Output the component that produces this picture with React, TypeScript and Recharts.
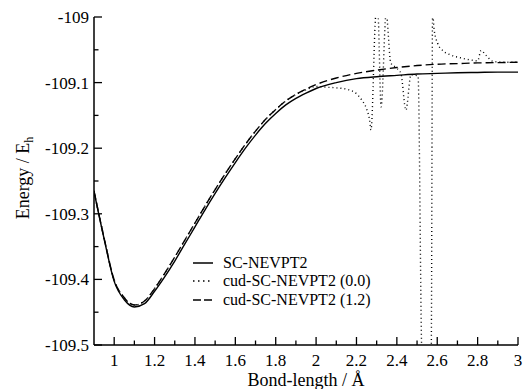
import React from 'react';
import { LineChart, Line, XAxis, YAxis, Legend, Label } from 'recharts';

// bond length (Å) / energy (Eh)
const rSc = [0.9, 0.95, 1.0, 1.05, 1.1, 1.15, 1.2, 1.25, 1.3, 1.35, 1.4, 1.45, 1.5, 1.55, 1.6, 1.65, 1.7, 1.75, 1.8, 1.85, 1.9, 1.95, 2.0, 2.1, 2.2, 2.3, 2.4, 2.5, 2.6, 2.7, 2.8, 2.9, 3.0];
const eSc = [-109.266, -109.338, -109.403, -109.431, -109.442, -109.437, -109.418, -109.396, -109.372, -109.346, -109.32, -109.294, -109.269, -109.245, -109.222, -109.2, -109.18, -109.162, -109.147, -109.134, -109.124, -109.116, -109.109, -109.1, -109.094, -109.091, -109.089, -109.087, -109.086, -109.085, -109.0845, -109.084, -109.084];

const rCud12 = [0.9, 0.95, 1.0, 1.05, 1.1, 1.15, 1.2, 1.25, 1.3, 1.35, 1.4, 1.45, 1.5, 1.55, 1.6, 1.65, 1.7, 1.75, 1.8, 1.85, 1.9, 1.95, 2.0, 2.1, 2.2, 2.3, 2.4, 2.5, 2.6, 2.7, 2.8, 2.9, 3.0];
const eCud12 = [-109.265, -109.337, -109.401, -109.428, -109.439, -109.433, -109.414, -109.391, -109.366, -109.34, -109.314, -109.288, -109.263, -109.239, -109.216, -109.194, -109.174, -109.156, -109.141, -109.128, -109.118, -109.11, -109.103, -109.093, -109.086, -109.081, -109.077, -109.074, -109.072, -109.071, -109.07, -109.0695, -109.069];

const rCud00 = [0.9, 0.95, 1.0, 1.05, 1.1, 1.15, 1.2, 1.25, 1.3, 1.35, 1.4, 1.45, 1.5, 1.55, 1.6, 1.65, 1.7, 1.75, 1.8, 1.85, 1.9, 1.95, 2.0, 2.05, 2.1, 2.15, 2.2, 2.225, 2.25, 2.265, 2.272, 2.297, 2.306, 2.322, 2.347, 2.37, 2.4, 2.42, 2.445, 2.47, 2.505, 2.525, 2.57, 2.577, 2.585, 2.602, 2.627, 2.668, 2.726, 2.775, 2.8, 2.817, 2.84, 2.88, 2.95, 3.0];
const eCud00 = [-109.265, -109.337, -109.401, -109.428, -109.439, -109.433, -109.414, -109.391, -109.366, -109.34, -109.314, -109.288, -109.263, -109.239, -109.216, -109.194, -109.174, -109.156, -109.141, -109.128, -109.118, -109.111, -109.106, -109.107, -109.108, -109.11, -109.117, -109.126, -109.14, -109.157, -109.172, -108.995, -108.995, -109.137, -108.995, -109.07, -109.078, -109.086, -109.142, -109.088, -109.09, -109.52, -109.52, -108.995, -109.02, -109.04, -109.051, -109.058, -109.063, -109.066, -109.067, -109.051, -109.058, -109.068, -109.069, -109.069];

const xTicks = [1, 1.1, 1.2, 1.3, 1.4, 1.5, 1.6, 1.7, 1.8, 1.9, 2, 2.1, 2.2, 2.3, 2.4, 2.5, 2.6, 2.7, 2.8, 2.9, 3];
const xLabels = [1, 1.2, 1.4, 1.6, 1.8, 2, 2.2, 2.4, 2.6, 2.8, 3];
const yTicks = [-109.5, -109.45, -109.4, -109.35, -109.3, -109.25, -109.2, -109.15, -109.1, -109.05, -109];
const yLabels = [-109.5, -109.4, -109.3, -109.2, -109.1, -109];

const zip = (r: number[], e: number[]) => r.map((x, i) => ({ r: x, e: e[i] }));

const series = [
  { key: 'sc', name: 'SC-NEVPT2', data: zip(rSc, eSc), dash: undefined, legendDash: undefined },
  { key: 'c00', name: 'cud-SC-NEVPT2 (0.0)', data: zip(rCud00, eCud00), dash: '1 3', legendDash: '1.5 3.5' },
  { key: 'c12', name: 'cud-SC-NEVPT2 (1.2)', data: zip(rCud12, eCud12), dash: '8 4', legendDash: '8 3' },
];

const FONT = '"Liberation Serif"';
const isIn = (list: number[], v: number) => list.some((m) => Math.abs(m - v) < 1e-6);

const BottomTick = (props: any) => {
  const { x, y, payload } = props;
  const major = isIn(xLabels, payload.value);
  return (
    <g>
      <line x1={x} x2={x} y1={y} y2={y - (major ? 8 : 4.5)} stroke="#000" strokeWidth={1.3} />
      {major && (
        <text x={x} y={y + 21} textAnchor="middle" fontSize={17} fontFamily={FONT} fill="#000">
          {String(payload.value)}
        </text>
      )}
    </g>
  );
};

const TopTick = (props: any) => {
  const { x, y, payload } = props;
  const major = isIn(xLabels, payload.value);
  return <line x1={x} x2={x} y1={y} y2={y + (major ? 8 : 5)} stroke="#000" strokeWidth={1.3} />;
};

const LeftTick = (props: any) => {
  const { x, y, payload } = props;
  const major = isIn(yLabels, payload.value);
  return (
    <g>
      <line x1={x} x2={x + (major ? 8 : 4.5)} y1={y} y2={y} stroke="#000" strokeWidth={1.3} />
      {major && (
        <text x={x - 5} y={y + 6} textAnchor="end" fontSize={17} fontFamily={FONT} fill="#000">
          {String(payload.value)}
        </text>
      )}
    </g>
  );
};

const RightTick = (props: any) => {
  const { x, y } = props;
  return <line x1={x} x2={x - 9} y1={y} y2={y} stroke="#000" strokeWidth={1.3} />;
};

const renderLegend = () => (
  <div style={{ fontFamily: FONT, fontSize: 16, color: '#000' }}>
    {series.map((s) => (
      <div key={s.key} style={{ height: 18.3, display: 'flex', alignItems: 'center', whiteSpace: 'nowrap' }}>
        <svg width={20} height={6} style={{ marginRight: 10 }}>
          <line x1={0} x2={20} y1={3} y2={3} stroke="#000" strokeWidth={1.5} strokeDasharray={s.legendDash} />
        </svg>
        <span>{s.name}</span>
      </div>
    ))}
  </div>
);

const YTitle = () => (
  <text x={29} y={178} transform="rotate(-90, 29, 178)" textAnchor="middle" fontSize={18} fontFamily={FONT} fill="#000">
    Energy / E<tspan dy={4} fontSize={12}>h</tspan>
  </text>
);

const XTitle = () => (
  <text x={306} y={386} textAnchor="middle" fontSize={18} fontFamily={FONT} fill="#000">
    Bond-length / Å
  </text>
);

export default function App() {
  return (
    <div style={{ position: 'absolute', left: 0, top: 0, background: '#fff' }}>
      <LineChart width={523} height={389} margin={{ top: 17, right: 5, bottom: 0, left: 0 }}>
        <XAxis
          xAxisId="b" dataKey="r" type="number" domain={[0.9, 3]} allowDataOverflow
          ticks={xTicks} interval={0} height={44} tickSize={0} tickMargin={0}
          tickLine={false} axisLine={{ stroke: '#000', strokeWidth: 1.5 }} tick={<BottomTick />}
        >
          <Label content={<XTitle />} />
        </XAxis>
        <XAxis
          xAxisId="t" orientation="top" dataKey="r" type="number" domain={[0.9, 3]} allowDataOverflow
          ticks={xTicks} interval={0} height={0} tickSize={0} tickMargin={0}
          tickLine={false} axisLine={{ stroke: '#000', strokeWidth: 1.5 }} tick={<TopTick />}
        />
        <YAxis
          yAxisId="l" type="number" domain={[-109.5, -109]} allowDataOverflow
          ticks={yTicks} interval={0} width={94} tickSize={0} tickMargin={0}
          tickLine={false} axisLine={{ stroke: '#000', strokeWidth: 1.5 }} tick={<LeftTick />}
        >
          <Label content={<YTitle />} />
        </YAxis>
        <YAxis
          yAxisId="r" orientation="right" type="number" domain={[-109.5, -109]} allowDataOverflow
          ticks={yTicks} interval={0} width={0} tickSize={0} tickMargin={0}
          tickLine={false} axisLine={{ stroke: '#000', strokeWidth: 1.5 }} tick={<RightTick />}
        />
        <Legend
          layout="vertical" align="center" verticalAlign="middle" content={renderLegend}
          wrapperStyle={{ left: 193, top: 254 }}
        />
        {series.map((s) => (
          <Line
            key={s.key} xAxisId="b" yAxisId="l" data={s.data} dataKey="e" name={s.name}
            type="monotone" stroke="#000" strokeWidth={1.4} strokeDasharray={s.dash}
            dot={false} activeDot={false} isAnimationActive={false}
          />
        ))}
      </LineChart>
    </div>
  );
}
